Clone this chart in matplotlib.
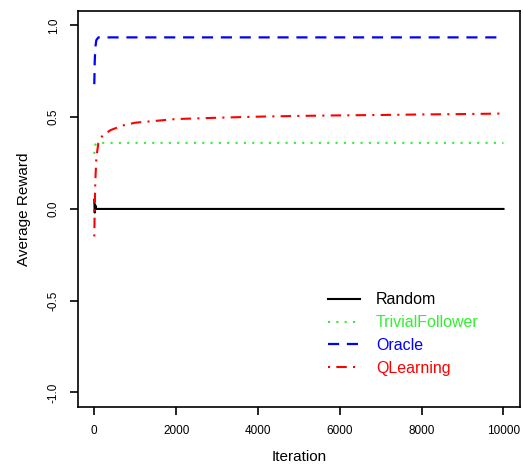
import matplotlib
matplotlib.use("Agg")
import matplotlib.pyplot as plt

plt.rcParams['font.family'] = ['Liberation Sans', 'DejaVu Sans']

iterations = [0, 10, 25, 50, 100, 200, 400, 700, 1000, 1500, 2000, 3000,
              4000, 5000, 6000, 7000, 8000, 9000, 10000]
random_reward = [0.05, -0.02, 0.02, 0.0, 0.0, 0.0, 0.0, 0.0, 0.0, 0.0, 0.0,
                 0.0, 0.0, 0.0, 0.0, 0.0, 0.0, 0.0, 0.0]
trivial_reward = [0.30, 0.33, 0.35, 0.355, 0.36, 0.36, 0.36, 0.36, 0.36, 0.36,
                  0.36, 0.36, 0.36, 0.36, 0.36, 0.36, 0.36, 0.36, 0.36]
oracle_reward = [0.68, 0.80, 0.88, 0.92, 0.935, 0.935, 0.935, 0.935, 0.935,
                 0.935, 0.935, 0.935, 0.935, 0.935, 0.935, 0.935, 0.935,
                 0.935, 0.935]
qlearning_reward = [-0.15, 0.0, 0.15, 0.28, 0.36, 0.40, 0.43, 0.455, 0.47,
                    0.48, 0.49, 0.497, 0.503, 0.507, 0.51, 0.512, 0.515,
                    0.517, 0.52]

series = ["Random", "TrivialFollower", "Oracle", "QLearning"]
colors = ["black", "#33ee33", "blue", "red"]

x_ticks = [0, 2000, 4000, 6000, 8000, 10000]
y_ticks = [1.0, 0.5, 0.0, -0.5, -1.0]

fig = plt.figure(figsize=(5.23, 4.69), dpi=100)
ax = fig.add_axes([0.149, 0.132, 0.845, 0.845])

ax.plot(iterations, random_reward, color=colors[0], lw=1.5, ls="-", label=series[0])
ax.plot(iterations, trivial_reward, color=colors[1], lw=1.5, ls=(0, (1, 3)), label=series[1])
ax.plot(iterations, oracle_reward, color=colors[2], lw=1.6, ls=(0, (5, 3.5)), label=series[2])
ax.plot(iterations, qlearning_reward, color=colors[3], lw=1.5, ls=(0, (1, 3, 5, 3)), label=series[3])

ax.set_xlim(-400, 10400)
ax.set_ylim(-1.08, 1.08)
ax.set_xticks(x_ticks)
ax.set_xticklabels([str(t) for t in x_ticks], fontsize=8.5)
ax.set_yticks(y_ticks)
ax.set_yticklabels([f"{t:.1f}" for t in y_ticks], fontsize=8.5, rotation=90, va="center")
ax.tick_params(direction="out", length=6, width=1.2, pad=7)
for s in ax.spines.values():
    s.set_linewidth(1.2)

ax.set_xlabel("Iteration", fontsize=11, labelpad=9)
ax.set_ylabel("Average Reward", fontsize=11, labelpad=12)

leg = ax.legend(loc="lower right", bbox_to_anchor=(0.939, 0.042), frameon=False,
                fontsize=11.5, handlelength=2.0, handletextpad=1.0, labelspacing=0.5)
for txt, c in zip(leg.get_texts(), colors):
    txt.set_color(c)

fig.savefig("out.png", dpi=100)
